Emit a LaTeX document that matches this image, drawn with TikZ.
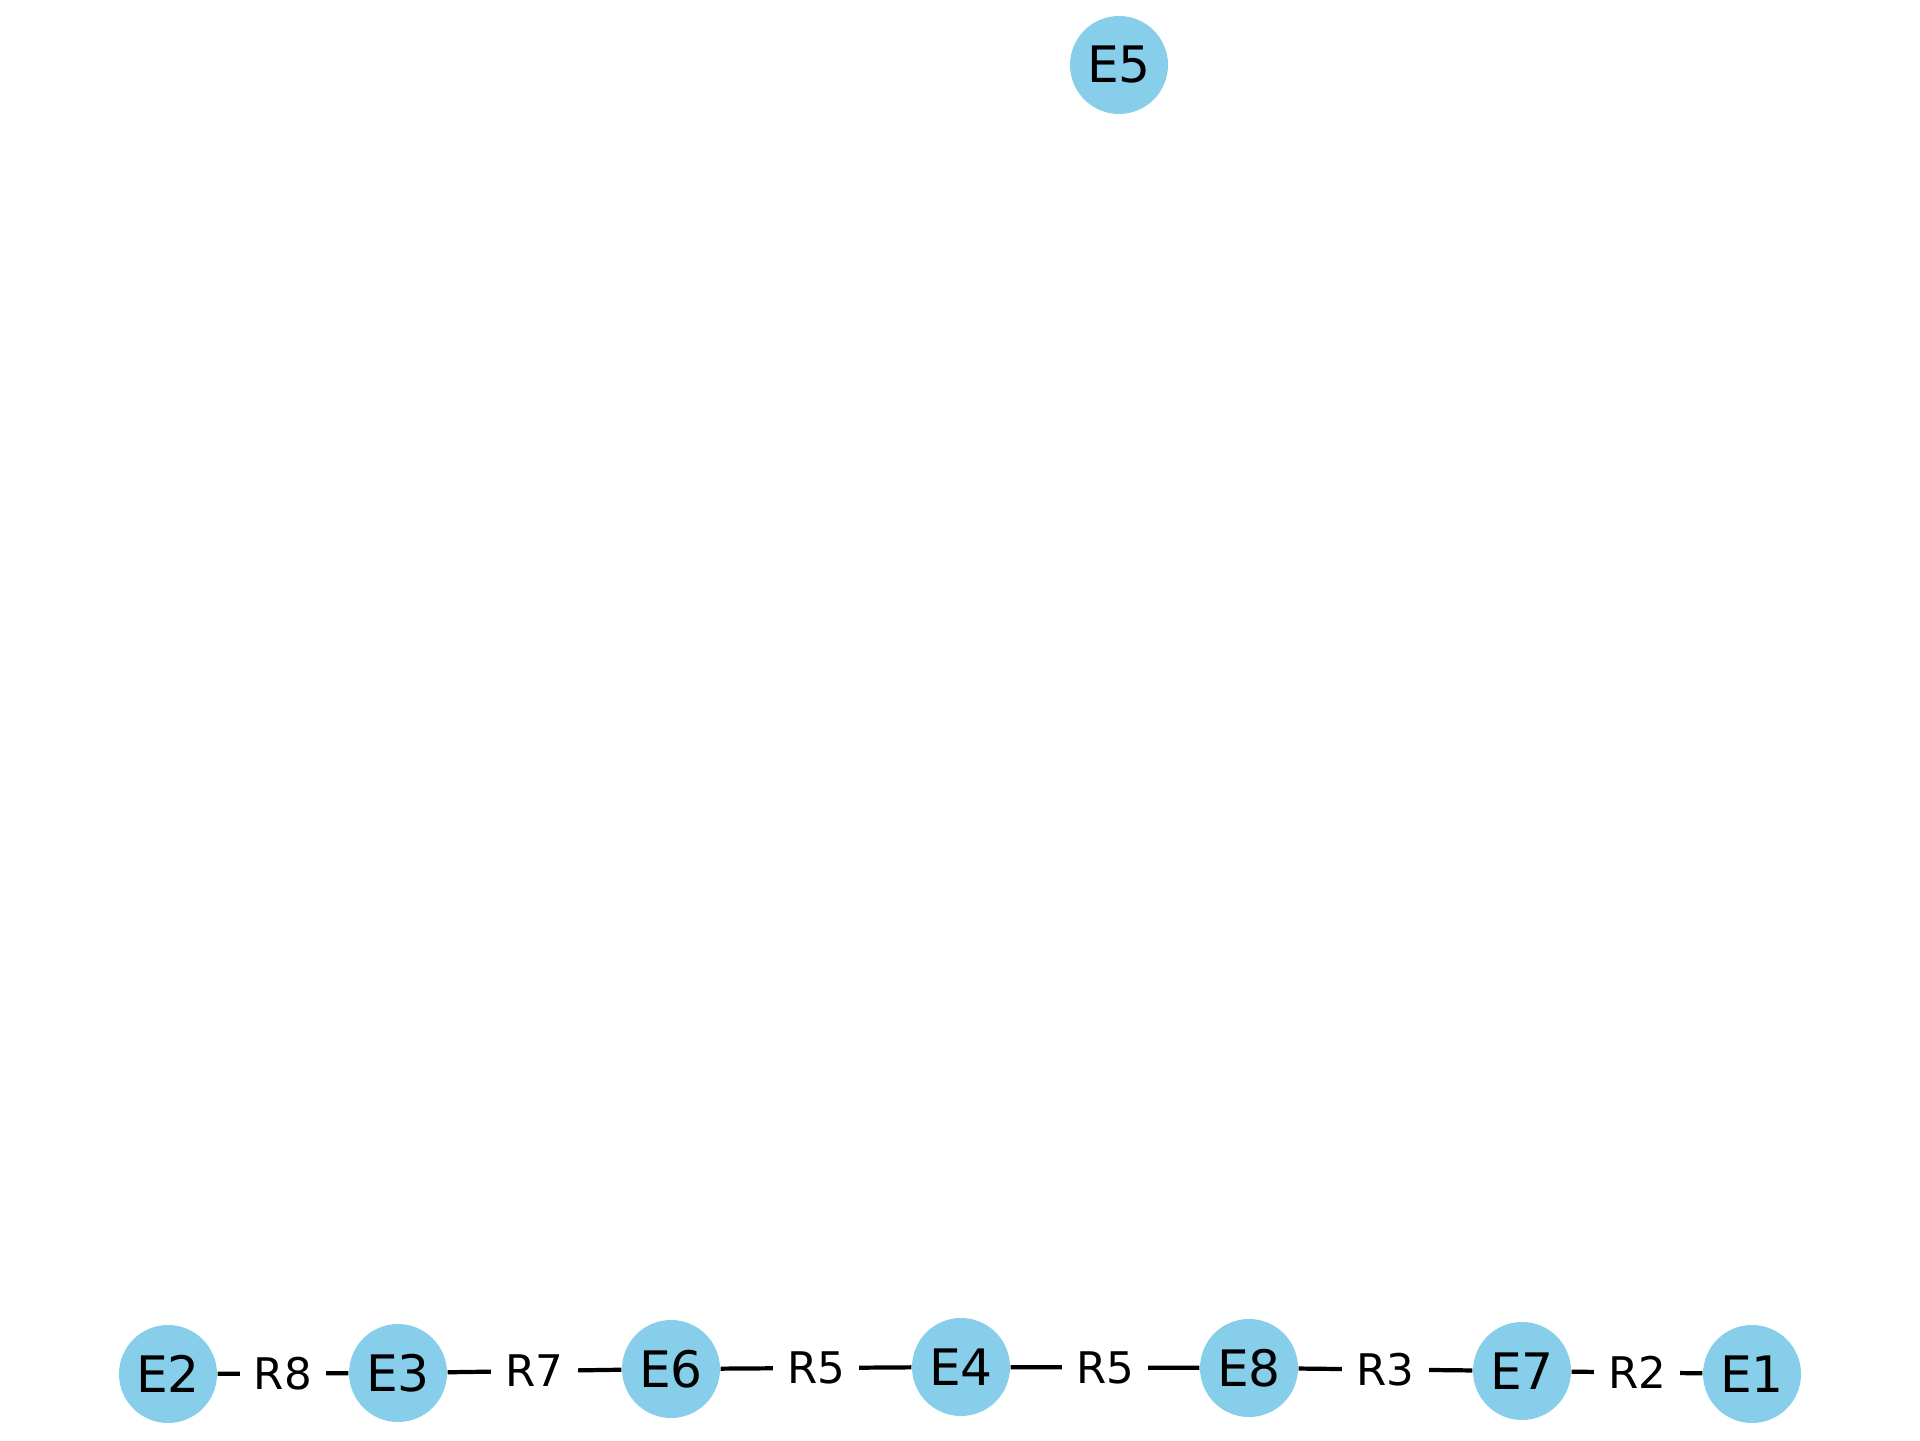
\documentclass[tikz,border=0pt]{standalone}
\usepackage{fontspec}
\setmainfont{DejaVu Sans}
\definecolor{skyblue}{HTML}{87CEEB}

\begin{document}
\begin{tikzpicture}[
  entity/.style={circle, fill=skyblue, minimum size=0.98cm, inner sep=0pt,
                 font=\fontsize{14.3}{16}\selectfont},
  rel/.style={fill=white, inner sep=4pt, font=\fontsize{12.4}{14}\selectfont},
  link/.style={black, line width=1.2pt}
]
\useasboundingbox (0,0) rectangle (19.2,14.4);

% entities
\node[entity] (e5) at (11.19,13.75) {E5};
\node[entity] (e2) at (1.68,0.66) {E2};
\node[entity] (e3) at (3.98,0.67) {E3};
\node[entity] (e6) at (6.71,0.71) {E6};
\node[entity] (e4) at (9.61,0.73) {E4};
\node[entity] (e8) at (12.49,0.72) {E8};
\node[entity] (e7) at (15.22,0.69) {E7};
\node[entity] (e1) at (17.52,0.66) {E1};

% relations
\draw[link] (e2) -- node[rel] {R8} (e3);
\draw[link] (e3) -- node[rel] {R7} (e6);
\draw[link] (e6) -- node[rel] {R5} (e4);
\draw[link] (e4) -- node[rel] {R5} (e8);
\draw[link] (e8) -- node[rel] {R3} (e7);
\draw[link] (e7) -- node[rel] {R2} (e1);

\end{tikzpicture}
\end{document}
